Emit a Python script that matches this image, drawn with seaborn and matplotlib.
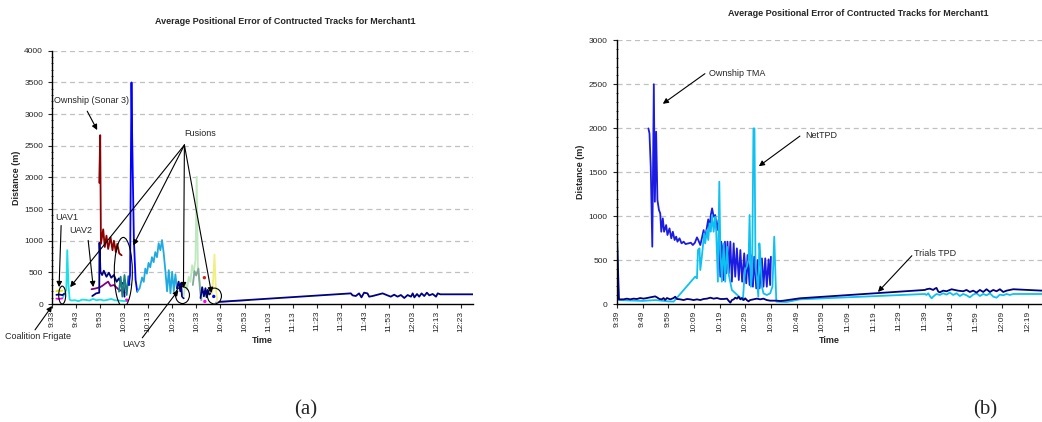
import matplotlib
matplotlib.use("Agg")
import matplotlib.pyplot as plt
import seaborn as sns
from matplotlib.patches import Ellipse
from matplotlib.ticker import MultipleLocator

# ---------- chart (a): minutes after 9:33 ----------
a_ticks = list(range(0, 171, 10))
a_labels = ["9:33", "9:43", "9:53", "10:03", "10:13", "10:23", "10:33", "10:43", "10:53",
            "11:03", "11:13", "11:23", "11:33", "11:43", "11:53", "12:03", "12:13", "12:23"]

a_yellow_t = [1.8, 2.6, 3.4, 4.3]
a_yellow_v = [200, 215, 205, 210]
a_magenta_t = [1.8, 3.0, 4.3]
a_magenta_v = [85, 80, 90]
a_navy1_t = [1.8, 3.0, 4.3, 5.0]
a_navy1_v = [145, 150, 140, 160]
a_cyan_t = [4.6, 5.3, 5.9, 6.3, 6.8, 7.3, 8.0, 9.5, 11, 12.5, 14, 15.5, 17, 18.5, 20,
            21.5, 23, 24.5, 26, 27.5, 29, 30.5]
a_cyan_v = [110, 180, 220, 850, 300, 70, 55, 60, 45, 70, 65, 55, 80, 60, 70,
            55, 65, 80, 60, 55, 50, 45]
a_navy2_t = [16.7, 18.3, 19.6, 19.7, 20.1, 20.8, 21.5, 22.6, 23.6, 24.6, 25.7, 26.8,
             27.8, 28.75, 29.6, 30.1]
a_navy2_v = [126, 168, 179, 968, 510, 458, 526, 431, 494, 415, 458, 352, 405, 316, 337, 116]
a_purple_t = [16.4, 18.0, 19.9, 21.0, 21.9, 23.3, 24.3, 25.7, 27.5, 29.3, 30.2]
a_purple_v = [234, 245, 265, 290, 317, 354, 286, 300, 234, 198, 180]
a_darkred_t = [19.6, 20.0, 20.3, 21.25, 21.9, 22.6, 23.3, 24.3, 25.1, 25.7, 26.5, 27.1, 27.9, 28.9]
a_darkred_v = [1915, 2667, 950, 1180, 900, 1080, 870, 1055, 850, 1000, 820, 950, 800, 770]
a_teal_t = [27.8, 28.5, 29.2, 30.1, 31.0, 31.7, 32.2]
a_teal_v = [195, 431, 116, 458, 142, 440, 300]
a_blue_t = [31.9, 32.4, 33.0, 33.3, 34.0, 34.7, 35.4]
a_blue_v = [300, 458, 3500, 2600, 1010, 380, 195]
a_lightblue_t = [35.4, 36.4, 37.4, 38.1, 38.75, 39.4, 40.1, 40.8, 41.5, 42.2, 42.9, 43.6,
                 44.3, 45.0, 45.7, 46.4, 47.1, 47.8, 48.5, 49.2, 49.9, 50.6, 51.25, 51.9]
a_lightblue_v = [195, 250, 420, 350, 560, 480, 650, 580, 740, 660, 820, 740,
                 960, 850, 1010, 800, 520, 200, 535, 170, 510, 200, 470, 250]
a_navy3_t = [51.9, 52.6, 53.3, 53.6, 54.0, 54.7]
a_navy3_v = [250, 354, 200, 330, 120, 90]
a_palegreen_t = [54.7, 55.4, 56.1, 56.8, 57.5, 58.2, 58.9, 59.6, 60.1, 60.6, 61.2, 61.7, 62.3]
a_palegreen_v = [120, 330, 225, 430, 350, 614, 510, 690, 2010, 600, 400, 250, 80]
a_sage_t = [58.5, 59.2, 59.9, 60.8, 61.5, 62.0]
a_sage_v = [300, 520, 450, 560, 220, 60]
a_navy4_t = [61.7, 62.4, 63.1, 63.75, 64.2, 64.7, 65.3, 66.0]
a_navy4_v = [94, 265, 120, 250, 109, 224, 150, 170]
a_paleyellow_t = [66.4, 67.0, 67.5, 68.0, 68.6]
a_paleyellow_v = [150, 400, 780, 300, 60]
a_dots_t = [31.0, 63.3, 63.5, 67.2]
a_dots_v = [60, 416, 40, 120]
a_dots_c = ["#ff00ff", "#d02020", "#ff00ff", "#0000ff"]
a_lavender_t = [68.0, 82.0]
a_lavender_v = [25, 60]
a_navy5_t = [69.5, 80.0, 124.2, 124.9, 126.25, 127.6, 128.6, 129.7, 131.1, 131.8, 133.2,
             135.3, 137.4, 139.4, 140.8, 142.2, 143.6, 145.0, 146.4, 147.8, 149.2, 149.9,
             150.6, 151.7, 152.6, 153.6, 154.7, 155.8, 156.8, 158.2, 159.6, 160.3, 161.4, 175.3]
a_navy5_v = [35, 60, 168, 137, 126, 168, 105, 179, 168, 116, 126,
             147, 168, 137, 116, 147, 116, 142, 95, 142, 116, 168,
             105, 158, 116, 168, 126, 179, 137, 158, 116, 168, 153, 153]

# ---------- chart (b): minutes after 9:39 ----------
b_ticks = list(range(0, 161, 10))
b_labels = ["9:39", "9:49", "9:59", "10:09", "10:19", "10:29", "10:39", "10:49", "10:59",
            "11:09", "11:19", "11:29", "11:39", "11:49", "11:59", "12:09", "12:19"]

b_tma_t = [12.3, 12.7, 13.2, 13.8, 14.4, 14.8, 15.3, 15.8, 16.4, 16.9, 17.3, 17.9, 18.4,
           19.2, 19.7, 20.5, 21.2, 21.8, 22.5, 23.1, 23.6, 24.4, 25.2, 26.0, 26.75, 27.9,
           28.8, 29.6, 30.4, 31.2, 31.7, 32.5, 33.1, 33.8, 34.3, 35.1, 35.6, 36.1, 36.6,
           37.1, 37.7, 38.3, 39.0, 39.6, 40.3, 40.6, 41.0, 41.6, 42.1, 42.6, 43.1, 43.6,
           44.2, 44.8, 45.5, 46.1, 46.75, 47.5, 48.1, 48.8, 49.6, 50.4, 50.9, 51.7, 52.2,
           53.0, 53.5, 54.3, 54.8, 55.6, 56.5, 57.1, 57.8, 58.4, 59.1, 59.7, 60.0]
b_tma_v = [1997, 1940, 1561, 652, 2500, 1163, 1960, 1182, 1069, 1031, 822, 974, 822,
           898, 785, 860, 747, 822, 728, 766, 709, 747, 690, 709, 682, 690,
           697, 671, 697, 758, 728, 671, 747, 841, 728, 879, 963, 841, 1012,
           1088, 993, 1012, 841, 955, 311, 709, 652, 273, 709, 349, 709, 349,
           709, 254, 690, 311, 633, 273, 614, 254, 576, 235, 557, 216, 557,
           197, 538, 178, 500, 178, 519, 197, 519, 197, 508, 216, 538]

b_net_t = [0, 0.65, 5, 10, 15, 20, 22.1, 30.5, 31.2, 31.6, 32.2, 32.5, 33.1, 33.5, 34.0,
           34.4, 35.1, 35.6, 36.1, 36.6, 37.1, 37.7, 38.3, 38.7, 39.35, 39.9, 40.3, 40.9,
           41.6, 42.2, 42.9, 43.5, 44.8, 49.1, 49.6, 50.0, 50.6, 51.3, 51.7, 52.2, 52.7,
           53.2, 53.6, 54.0, 54.5, 55.1, 55.5, 55.8, 56.5, 57.1, 58.4, 59.7, 60.6, 61.3,
           62.1, 66.2, 71.3, 120.0, 120.6, 121.3, 121.9, 122.6, 123.2, 124.5, 125.8, 127.1,
           128.4, 129.7, 131.0, 132.3, 133.6, 134.9, 136.2, 137.5, 138.8, 140.1, 141.4,
           142.7, 144.0, 145.3, 146.6, 147.9, 149.2, 150.5, 151.8, 153.1, 154.4, 165.6]
b_net_v = [822, 45, 40, 35, 45, 30, 27, 311, 292, 614, 633, 387, 538, 652, 803,
           690, 841, 728, 917, 822, 1012, 822, 993, 822, 254, 1391, 614, 254,
           690, 254, 652, 349, 159, 45, 273, 387, 424, 500, 1012, 197, 349,
           1997, 1997, 424, 311, 83, 690, 576, 197, 121, 102, 121, 197, 766,
           27, 23, 53, 114, 103, 122, 91, 65, 84, 114, 103, 122,
           107, 130, 103, 122, 91, 114, 99, 76, 107, 122, 91,
           114, 99, 122, 84, 72, 107, 99, 114, 103, 114, 114]

b_trials_t = [0, 0.8, 2.6, 3.9, 5.2, 6.5, 7.8, 9.1, 10.4, 11.7, 13.0, 14.3, 14.9, 15.6,
              16.6, 17.5, 18.2, 18.8, 19.5, 20.8, 22.1, 22.7, 23.4, 24.7, 26.0, 27.3,
              28.6, 29.9, 31.2, 32.5, 33.8, 35.1, 36.4, 37.7, 39.0, 40.3, 41.6, 42.9,
              43.5, 44.2, 44.8, 45.5, 46.1, 46.8, 47.4, 48.1, 48.7, 49.4, 50.0, 50.6,
              51.3, 51.9, 53.2, 54.5, 55.8, 57.1, 58.4, 59.7, 61.0, 62.3, 63.6, 64.9,
              71.3, 120.0, 120.6, 121.9, 123.2, 123.9, 124.5, 125.2, 125.8, 127.1, 128.4,
              130.4, 131.6, 132.9, 134.9, 136.2, 137.5, 138.8, 140.1, 141.4, 142.7, 144.0,
              145.3, 146.6, 147.9, 149.2, 150.5, 151.8, 153.1, 154.4, 165.6]
b_trials_v = [834, 53, 53, 61, 53, 61, 57, 68, 61, 68, 76, 83, 87, 76,
              57, 53, 68, 45, 68, 53, 68, 83, 57, 53, 45, 57,
              53, 45, 53, 45, 57, 61, 72, 61, 68, 57, 57, 61,
              38, 15, 45, 53, 72, 61, 83, 53, 68, 45, 65, 45,
              30, 45, 53, 61, 53, 61, 45, 38, 38, 38, 34, 38,
              65, 160, 168, 175, 160, 175, 183, 141, 133, 152, 145,
              168, 160, 152, 145, 160, 137, 152, 130, 160, 137, 168,
              137, 160, 145, 168, 137, 152, 160, 168, 152]

# ---------- style ----------
sns.set_style("white")
plt.rcParams["font.family"] = ["Liberation Sans", "DejaVu Sans"]

fig = plt.figure(figsize=(10.42, 4.22), dpi=100)
ax1 = fig.add_axes([0.050, 0.2796, 0.404, 0.600])
ax2 = fig.add_axes([0.592, 0.2796, 0.408, 0.625])


def line(ax, t, v, color, lw=1.3):
    sns.lineplot(x=t, y=v, ax=ax, color=color, linewidth=lw,
                 estimator=None, sort=False, legend=False)


def arrow(ax, start, end, color="black"):
    ax.annotate("", xy=end, xytext=start, annotation_clip=False,
                arrowprops=dict(arrowstyle="-|>", color=color, lw=0.8,
                                mutation_scale=8, shrinkA=0, shrinkB=0))


def style_axes(ax, ymax, xmax, ticks, labels, lab_dx, lab_dy):
    ax.set_ylim(0, ymax)
    ax.set_xlim(0, xmax)
    ax.set_xticks(ticks)
    ax.set_xticklabels(labels, rotation=90, fontsize=6)
    ax.yaxis.set_major_locator(MultipleLocator(500))
    ax.yaxis.set_minor_locator(MultipleLocator(100))
    ax.tick_params(axis="y", which="major", labelsize=6, length=3, width=0.8, direction="out", left=True)
    ax.tick_params(axis="y", which="minor", length=2, width=0.6, direction="inout", left=True)
    ax.tick_params(axis="x", which="major", length=3, width=0.8, direction="out", bottom=True, pad=2)
    for y in range(500, ymax + 1, 500):
        ax.axhline(y, color="#c0c0c0", lw=0.9, linestyle=(0, (4, 3)), zorder=0)
    for s in ["top", "right"]:
        ax.spines[s].set_visible(False)
    for s in ["left", "bottom"]:
        ax.spines[s].set_color("black")
        ax.spines[s].set_linewidth(1.0)
    ax.set_ylabel("Distance (m)", fontsize=6.5, fontweight="bold")
    ax.set_xlabel("Time", fontsize=6.5, fontweight="bold")
    ax.yaxis.set_label_coords(lab_dx, 0.5)
    ax.xaxis.set_label_coords(0.5, lab_dy)


# ---------- chart (a) ----------
line(ax1, a_lavender_t, a_lavender_v, "#9090e0", 1.0)
line(ax1, a_navy5_t, a_navy5_v, "#000080")
line(ax1, a_cyan_t, a_cyan_v, "#18e0e8")
line(ax1, a_yellow_t, a_yellow_v, "#e8e800")
line(ax1, a_magenta_t, a_magenta_v, "#ff00ff")
line(ax1, a_navy1_t, a_navy1_v, "#000080")
line(ax1, a_purple_t, a_purple_v, "#800080")
line(ax1, a_navy2_t, a_navy2_v, "#000080")
line(ax1, a_darkred_t, a_darkred_v, "#8b0000")
line(ax1, a_teal_t, a_teal_v, "#1a8080")
line(ax1, a_blue_t, a_blue_v, "#0000ff")
line(ax1, a_lightblue_t, a_lightblue_v, "#22aae0")
line(ax1, a_navy3_t, a_navy3_v, "#000080")
line(ax1, a_palegreen_t, a_palegreen_v, "#bfe8bf")
line(ax1, a_sage_t, a_sage_v, "#80a898")
line(ax1, a_navy4_t, a_navy4_v, "#000080")
line(ax1, a_paleyellow_t, a_paleyellow_v, "#f0f080")
sns.scatterplot(x=a_dots_t, y=a_dots_v, ax=ax1, hue=a_dots_t, palette=a_dots_c,
                s=6, linewidth=0, legend=False)

style_axes(ax1, 4000, 175, a_ticks, a_labels, -31 / 421, -32 / 253.5)

tk = dict(fontsize=6.5, ha="center", va="center", annotation_clip=False)
ax1.annotate("Ownship (Sonar 3)", xy=(16.3, 3220), **tk)
arrow(ax1, (14.6, 3046), (18.75, 2748))
ax1.annotate("Fusions", xy=(61.7, 2700), **tk)
for end in [(7.5, 267), (33.75, 926), (54.6, 251), (66.25, 173)]:
    arrow(ax1, (55.0, 2512), end)
ax1.annotate("UAV1", xy=(6.25, 1366), **tk)
arrow(ax1, (3.75, 1240), (2.9, 267))
ax1.annotate("UAV2", xy=(12.1, 1162), **tk)
arrow(ax1, (15.0, 1005), (17.1, 267))
ax1.annotate("Coalition Frigate", xy=(-5.8, -518), **tk)
arrow(ax1, (-7.1, -408), (0, -31))
ax1.annotate("UAV3", xy=(33.75, -644), **tk)
arrow(ax1, (37.5, -534), (52.5, 220))
for cx, cy, w, h in [(4.2, 141, 2.9, 283), (29.6, 502, 7.5, 1100),
                     (54.2, 141, 5.8, 267), (67.5, 126, 5.8, 251)]:
    ax1.add_patch(Ellipse((cx, cy), w, h, fill=False, ec="black", lw=0.8, zorder=5))

# ---------- chart (b) ----------
line(ax2, b_tma_t, b_tma_v, "#1c1ce0")
line(ax2, b_net_t, b_net_v, "#10c0f0")
line(ax2, b_trials_t, b_trials_v, "#000080")

style_axes(ax2, 3000, 165.6, b_ticks, b_labels, -32 / 425, -32 / 263)

ax2.annotate("Ownship TMA", xy=(35.8, 2623), fontsize=6.5, ha="left", va="center")
arrow(ax2, (34.3, 2620), (17.9, 2277))
ax2.annotate("NetTPD", xy=(73.2, 1922), fontsize=6.5, ha="left", va="center")
arrow(ax2, (71.3, 1910), (55.3, 1567))
ax2.annotate("Trials TPD", xy=(115.8, 572), fontsize=6.5, ha="left", va="center")
arrow(ax2, (114.9, 549), (101.7, 137))

# ---------- titles and panel labels ----------
title = "Average Positional Error of Contructed Tracks for Merchant1"
fig.text(285 / 1042, 1 - 22 / 422, title, fontsize=6.5, fontweight="bold", ha="center", va="center")
fig.text(858 / 1042, 1 - 13 / 422, title, fontsize=6.5, fontweight="bold", ha="center", va="center")
fig.text(306 / 1042, 1 - 410 / 422, "(a)", fontsize=15, family="Liberation Serif", ha="center", va="center")
fig.text(985 / 1042, 1 - 410 / 422, "(b)", fontsize=15, family="Liberation Serif", ha="center", va="center")

fig.savefig("out.png", dpi=100)
